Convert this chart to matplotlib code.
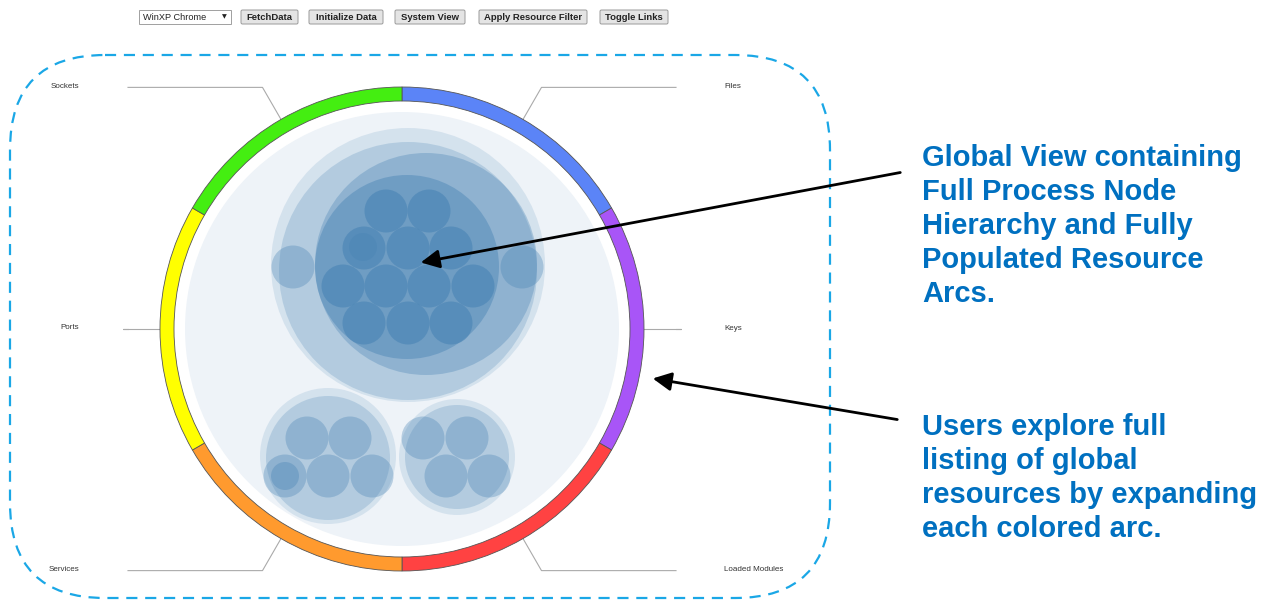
import numpy as np
import matplotlib
matplotlib.use("Agg")
import matplotlib.pyplot as plt
from matplotlib.patches import Wedge, Circle, FancyBboxPatch, Rectangle

plt.rcParams['font.family'] = ['Liberation Sans', 'DejaVu Sans']

# resource arcs (visual angles, counter-clockwise from east)
arc_names = ['Files', 'Keys', 'Loaded Modules', 'Services', 'Ports', 'Sockets']
arc_colors = ['#5b84f7', '#a855f7', '#ff4242', '#ff9a2e', '#ffff00', '#44ee11']
arc_start = [30, -30, -90, 210, 150, 90]
arc_end = [90, 30, -30, 270, 210, 150]

# packed process circles: x, y, r, alpha (pixel space of the page)
group_x = [408, 408, 426, 407, 328, 328, 457, 457]
group_y = [265, 271, 264, 267, 456, 458, 457, 457]
group_r = [137, 129, 111, 92, 68, 62, 58, 52]
group_a = [0.15, 0.23, 0.33, 0.43, 0.15, 0.23, 0.15, 0.23]

leaf_x = [386, 429, 364, 408, 451, 343, 386, 429, 473, 364, 408, 451, 293, 522,
          307, 350, 285, 328, 372, 423, 467, 446, 489]
leaf_y = [211, 211, 248, 248, 248, 286, 286, 286, 286, 323, 323, 323, 267, 267,
          438, 438, 476, 476, 476, 438, 438, 476, 476]
leaf_a = [0.57] * 12 + [0.33] * 2 + [0.33] * 9
leaf_r = 21.5

sub_x = [363, 285]
sub_y = [247, 476]
sub_r = 14

buttons = ['FetchData', 'Initialize Data', 'System View', 'Apply Resource Filter', 'Toggle Links']
button_x0 = [241, 309, 395, 479, 600]
button_x1 = [298, 383, 465, 587, 668]

note1 = "Global View containing\nFull Process Node\nHierarchy and Fully\nPopulated Resource\nArcs."
note2 = "Users explore full\nlisting of global\nresources by expanding\neach colored arc."

fig = plt.figure(figsize=(12.7, 6), dpi=100)
ax = fig.add_axes([0, 0, 1, 1])
ax.set_xlim(0, 1270)
ax.set_ylim(600, 0)
ax.set_aspect('equal')
ax.axis('off')

cx, cy = 402, 329
r_out, r_in = 242, 228
blue = '#4682b4'

# dashed rounded frame
frame = FancyBboxPatch((10, 55), 820, 543, boxstyle='round,pad=0,rounding_size=95',
                       fill=False, ec='#1aa7e6', lw=1.6, ls=(0, (5, 3.5)))
ax.add_patch(frame)

# leader lines and labels
for name, a0, a1 in zip(arc_names, arc_start, arc_end):
    m = np.deg2rad((a0 + a1) / 2)
    p0 = (cx + 235 * np.cos(m), cy - 235 * np.sin(m))
    p1 = (cx + 279 * np.cos(m), cy - 279 * np.sin(m))
    right = np.cos(m) > 0
    xend = 676 if right else 128
    ax.plot([p0[0], p1[0], xend], [p0[1], p1[1], p1[1]], color='#aaaaaa', lw=0.8, zorder=1)
    if right:
        ax.text(724, p1[1] - 1, name, fontsize=5.8, color='#333333', ha='left', va='center')
    else:
        ax.text(79, p1[1] - 1, name, fontsize=5.8, color='#333333', ha='right', va='center')

# ring
for c, a0, a1 in zip(arc_colors, arc_start, arc_end):
    ax.add_patch(Wedge((cx, cy), r_out, -a1, -a0, width=r_out - r_in,
                       fc=c, ec='#555555', lw=0.6, zorder=2))

# inner background
ax.add_patch(Circle((cx, cy), 217, fc='#eef3f8', ec='none', zorder=2))

for x, y, r, a in zip(group_x, group_y, group_r, group_a):
    ax.add_patch(Circle((x, y), r, fc=blue, alpha=a, ec='none', zorder=3))
for x, y, a in zip(leaf_x, leaf_y, leaf_a):
    ax.add_patch(Circle((x, y), leaf_r, fc=blue, alpha=a, ec='none', zorder=4))
for x, y in zip(sub_x, sub_y):
    ax.add_patch(Circle((x, y), sub_r, fc=blue, alpha=0.35, ec='none', zorder=5))

# toolbar
ax.add_patch(Rectangle((139, 10), 92, 14, fc='white', ec='#a0a0a0', lw=0.7))
ax.text(143, 17, 'WinXP Chrome', fontsize=6.6, color='#222222', va='center')
ax.text(224, 17, '\u25bc', fontsize=4.5, family='DejaVu Sans', color='#222222', va='center', ha='center')
for lab, x0, x1 in zip(buttons, button_x0, button_x1):
    ax.add_patch(FancyBboxPatch((x0, 10), x1 - x0, 14, boxstyle='round,pad=0,rounding_size=1.5',
                                fc='#e4e4e4', ec='#9a9a9a', lw=0.7))
    ax.text((x0 + x1) / 2, 17.5, lab, fontsize=6.8, fontweight='bold', color='#222222',
            ha='center', va='center')

# annotations
ax.annotate('', xy=(418, 263), xytext=(903, 172),
            arrowprops=dict(arrowstyle='-|>', mutation_scale=28, lw=2, color='black'), zorder=10)
ax.annotate('', xy=(650, 378), xytext=(900, 420),
            arrowprops=dict(arrowstyle='-|>', mutation_scale=28, lw=2, color='black'), zorder=10)
ax.text(922, 144, note1, fontsize=21, fontweight='bold', color='#0070c0',
        ha='left', va='top', linespacing=1.27)
ax.text(922, 413, note2, fontsize=21, fontweight='bold', color='#0070c0',
        ha='left', va='top', linespacing=1.27)

fig.savefig('out.png', dpi=100)
